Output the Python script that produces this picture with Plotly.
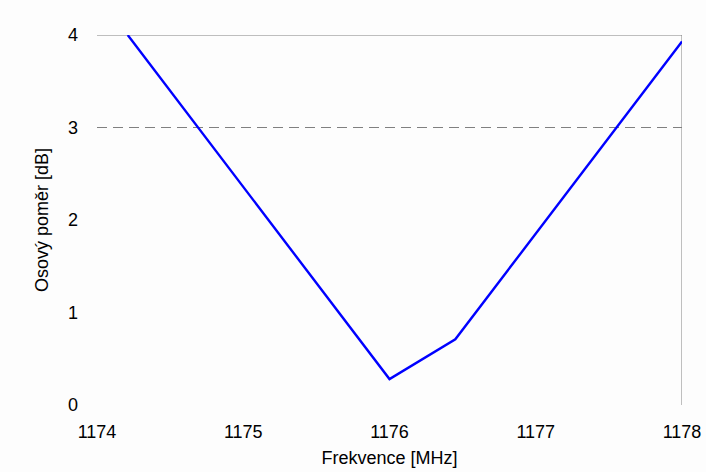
import plotly.graph_objects as go

freq_mhz = [1174.21, 1176.0, 1176.45, 1178.0]
axial_ratio_db = [4.0, 0.28, 0.71, 3.93]
x_ticks = [1174, 1175, 1176, 1177, 1178]
y_ticks = [0, 1, 2, 3, 4]
threshold_db = 3

FONT = "Liberation Sans, Arial, sans-serif"

fig = go.Figure()
fig.add_trace(go.Scatter(x=freq_mhz, y=axial_ratio_db, mode="lines",
                         line=dict(color="#0000FF", width=2.4), showlegend=False,
                         hoverinfo="x+y"))

# dashed 3 dB line, top border, right border
fig.add_shape(type="line", xref="x", yref="y", x0=x_ticks[0], x1=x_ticks[-1],
              y0=threshold_db, y1=threshold_db,
              line=dict(color="#808080", width=1, dash="10px,6px"), layer="below")
fig.add_shape(type="line", xref="x", yref="y", x0=x_ticks[0], x1=x_ticks[-1],
              y0=y_ticks[-1], y1=y_ticks[-1],
              line=dict(color="#808080", width=1), layer="below")
fig.add_shape(type="line", xref="x", yref="y", x0=x_ticks[-1], x1=x_ticks[-1],
              y0=y_ticks[0], y1=y_ticks[-1],
              line=dict(color="#808080", width=1), layer="below")

fig.update_layout(
    width=706, height=472,
    margin=dict(l=97, r=24, t=35, b=67),
    paper_bgcolor="#FDFDFD", plot_bgcolor="#FDFDFD",
    font=dict(family=FONT, size=18, color="#000000"),
    xaxis=dict(range=[x_ticks[0], x_ticks[-1]], tickvals=x_ticks,
               showgrid=False, zeroline=False, showline=False, automargin=False,
               ticks="", ticklabelstandoff=14,
               title=dict(text="Frekvence [MHz]", standoff=10,
                          font=dict(size=18))),
    yaxis=dict(range=[y_ticks[0], y_ticks[-1]], tickvals=y_ticks,
               showgrid=False, zeroline=False, showline=False, automargin=False,
               ticks="", ticklabelstandoff=18,
               title=dict(text="Osový poměr [dB]", standoff=14,
                          font=dict(size=18))),
)

fig.write_html("out.html")
